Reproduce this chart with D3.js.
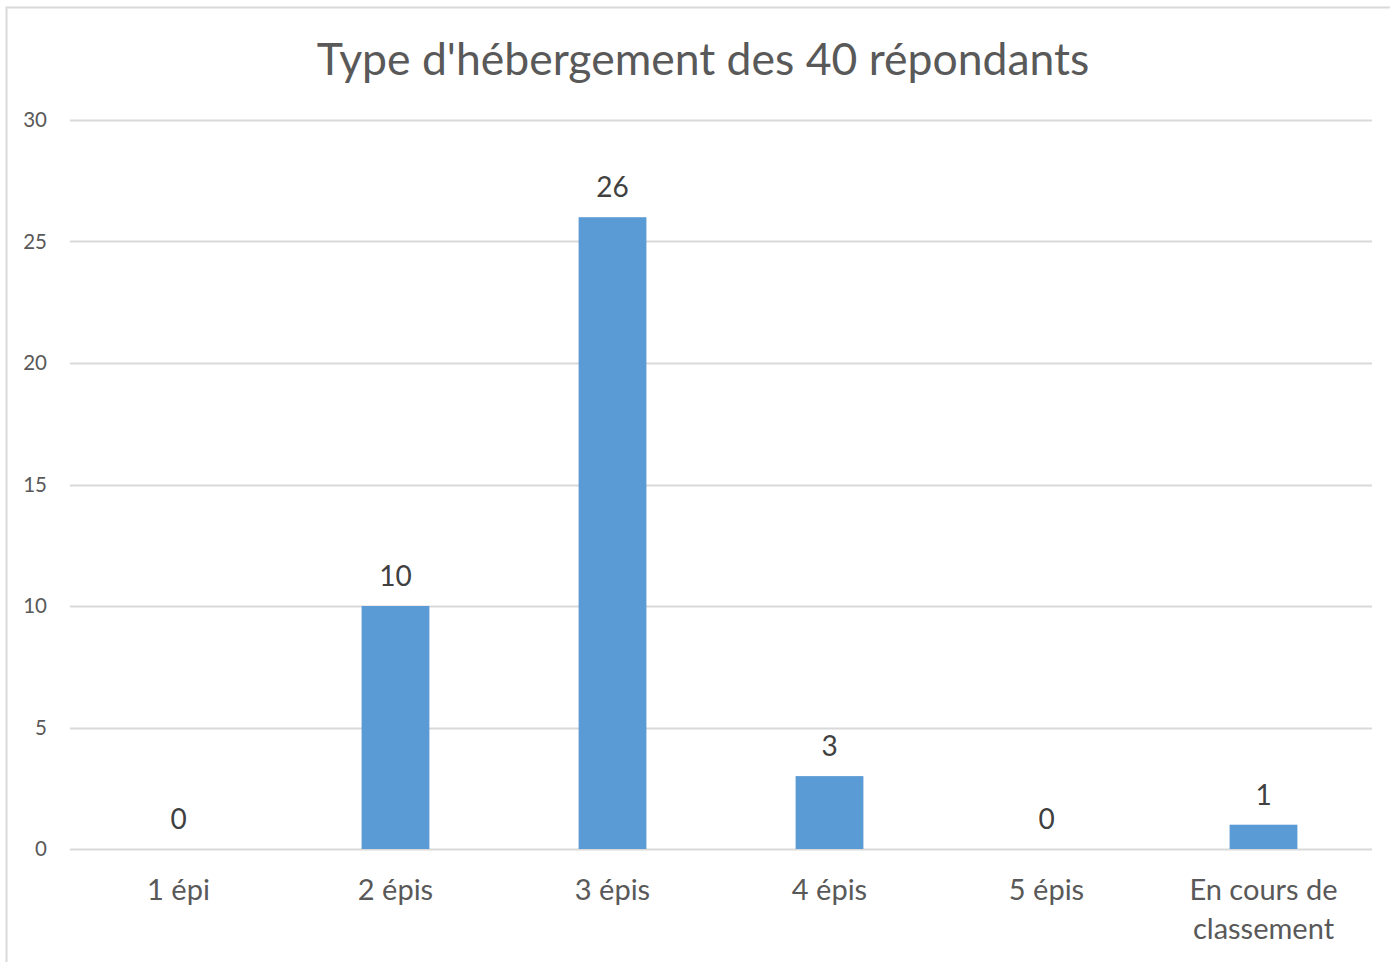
<!DOCTYPE html>
<html>
<head>
<meta charset="utf-8">
<script src="https://cdn.jsdelivr.net/npm/d3@7"></script>
<style>
  body { margin: 0; background: #fff; }
  text { font-family: Lato, "Open Sans", sans-serif; }
</style>
</head>
<body>
<div id="chart"></div>
<script>
const width = 1390,
  height = 962,
  margin = { top: 120, bottom: 113, left: 70, right: 18 }

const title = "Type d'hébergement des 40 répondants"
const categories = [["1 épi"], ["2 épis"], ["3 épis"], ["4 épis"], ["5 épis"], ["En cours de", "classement"]]
const values = [0, 10, 26, 3, 0, 1]
const yTicks = [0, 5, 10, 15, 20, 25, 30]

const svg = d3.select("#chart")
  .append("svg")
  .attr("width", width)
  .attr("height", height)

// outer chart frame
svg.append("rect")
  .attr("x", 6.5)
  .attr("y", 7.5)
  .attr("width", width)
  .attr("height", height)
  .attr("fill", "none")
  .attr("stroke", "#d9d9d9")
  .attr("stroke-width", 2)

const x = d3.scaleBand()
  .domain(d3.range(categories.length))
  .range([margin.left, width - margin.right])
  .paddingInner(0.6875)
  .paddingOuter(0.34375)

const y = d3.scaleLinear()
  .domain([0, 30])
  .range([height - margin.bottom, margin.top])

// gridlines
svg.append("g")
  .selectAll("line")
  .data(yTicks)
  .join("line")
  .attr("x1", margin.left)
  .attr("x2", width - margin.right)
  .attr("y1", d => Math.round(y(d)) + 0.5)
  .attr("y2", d => Math.round(y(d)) + 0.5)
  .attr("stroke", "#d9d9d9")
  .attr("stroke-width", 2)

// y tick labels
svg.append("g")
  .selectAll("text")
  .data(yTicks)
  .join("text")
  .attr("x", 47)
  .attr("y", d => y(d))
  .attr("dy", "0.35em")
  .attr("text-anchor", "end")
  .attr("font-size", 20.5)
  .attr("fill", "#595959")
  .text(d => d)

// bars
svg.append("g")
  .selectAll("rect")
  .data(values)
  .join("rect")
  .attr("x", (d, i) => x(i))
  .attr("width", x.bandwidth())
  .attr("y", d => y(d))
  .attr("height", d => y(0) - y(d))
  .attr("fill", "#5b9bd5")

// value labels
svg.append("g")
  .selectAll("text")
  .data(values)
  .join("text")
  .attr("x", (d, i) => x(i) + x.bandwidth() / 2)
  .attr("y", d => y(d) - 20)
  .attr("text-anchor", "middle")
  .attr("font-size", 28)
  .attr("fill", "#404040")
  .text(d => d)

// category labels
const cat = svg.append("g")
  .selectAll("text")
  .data(categories)
  .join("text")
  .attr("x", (d, i) => x(i) + x.bandwidth() / 2)
  .attr("y", 900)
  .attr("text-anchor", "middle")
  .attr("font-size", 29)
  .attr("fill", "#595959")

cat.selectAll("tspan")
  .data(d => d)
  .join("tspan")
  .attr("x", function () { return d3.select(this.parentNode).attr("x") })
  .attr("dy", (d, i) => i === 0 ? 0 : 39)
  .text(d => d)

// title
svg.append("text")
  .attr("x", 703)
  .attr("y", 75)
  .attr("text-anchor", "middle")
  .attr("font-size", 44.5)
  .attr("fill", "#595959")
  .text(title)
</script>
</body>
</html>
